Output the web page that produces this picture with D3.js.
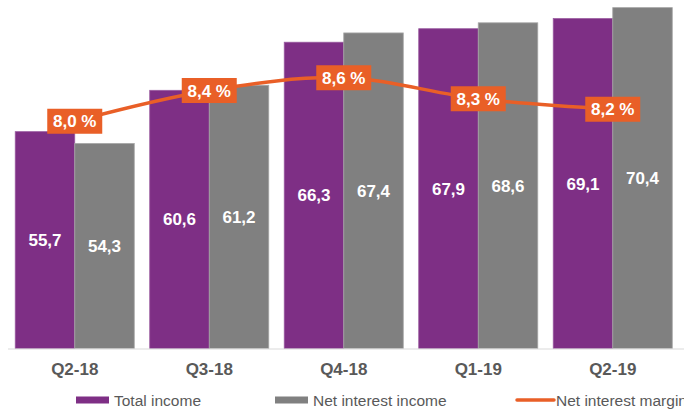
<!DOCTYPE html>
<html>
<head>
<meta charset="utf-8">
<script src="https://cdn.jsdelivr.net/npm/d3@7"></script>
<style>
  body { margin: 0; background: #fff; }
  svg { display: block; font-family: "Liberation Sans", Arial, sans-serif; }
</style>
</head>
<body>
<div id="chart"></div>
<script>
var quarters = ["Q2-18", "Q3-18", "Q4-18", "Q1-19", "Q2-19"]
var totalIncome = [55.7, 60.6, 66.3, 67.9, 69.1]
var netInterestIncome = [54.3, 61.2, 67.4, 68.6, 70.4]
var netInterestMargin = [8.01, 8.42, 8.59, 8.31, 8.17]
var legendLabels = ["Total income", "Net interest income", "Net interest margin"]

var width = 684, height = 411
var purple = "#7e2f85", gray = "#808080", orange = "#e95f27"

var svg = d3.select("#chart").append("svg")
  .attr("width", width)
  .attr("height", height)

var x = d3.scaleBand().domain(quarters).range([7.5, 680]).paddingInner(0.115).paddingOuter(0.0575)
var xSub = d3.scaleBand().domain([0, 1]).range([0, x.bandwidth()])
var y = d3.scaleLinear().domain([30, 70]).range([348.5, 11])
var yM = d3.scaleLinear().domain([8, 8.6]).range([122, 77])

// bars
var series = [
  {values: totalIncome, color: purple, stroke: "#9a5ba0"},
  {values: netInterestIncome, color: gray, stroke: "#a6a6a6"}
]
series.forEach(function(s, si){
  var g = svg.append("g")
  g.selectAll("rect").data(s.values).enter().append("rect")
    .attr("x", function(d, i){ return x(quarters[i]) + xSub(si) })
    .attr("y", function(d){ return y(d) })
    .attr("width", xSub.bandwidth())
    .attr("height", function(d){ return y(30) - y(d) })
    .attr("fill", s.color)
    .attr("stroke", s.stroke)
    .attr("stroke-width", 0.8)

  g.selectAll("text").data(s.values).enter().append("text")
    .attr("x", function(d, i){ return x(quarters[i]) + xSub(si) + xSub.bandwidth() / 2 })
    .attr("y", function(d){ return (y(d) + y(30)) / 2 + 6 })
    .attr("text-anchor", "middle")
    .attr("fill", "#fff")
    .attr("font-size", 17)
    .attr("font-weight", "bold")
    .text(function(d){ return d.toFixed(1).replace(".", ",") })
})

// x axis
var xAxis = d3.axisBottom(x).tickSize(0).tickPadding(14)
var ax = svg.append("g")
  .attr("transform", "translate(0," + 349 + ")")
  .call(xAxis)
ax.select(".domain").attr("stroke", "#d9d9d9").attr("d", "M8,0H684")
ax.selectAll("text")
  .attr("font-size", 17)
  .attr("font-weight", "bold")
  .attr("fill", "#595959")
  .attr("font-family", "Liberation Sans, Arial, sans-serif")

// margin line
var line = d3.line()
  .x(function(d, i){ return x(quarters[i]) + x.bandwidth() / 2 })
  .y(function(d){ return yM(d) })
  .curve(d3.curveCardinal.tension(0))

svg.append("path")
  .datum(netInterestMargin)
  .attr("d", line)
  .attr("fill", "none")
  .attr("stroke", orange)
  .attr("stroke-width", 3.5)

var boxes = svg.append("g").selectAll("g").data(netInterestMargin).enter().append("g")
  .attr("transform", function(d, i){
    return "translate(" + (x(quarters[i]) + x.bandwidth() / 2) + "," + yM(d) + ")"
  })
boxes.append("rect")
  .attr("x", -27.5).attr("y", -12.5)
  .attr("width", 55).attr("height", 25)
  .attr("fill", orange)
boxes.append("text")
  .attr("y", 6)
  .attr("text-anchor", "middle")
  .attr("fill", "#fff")
  .attr("font-size", 17)
  .attr("font-weight", "bold")
  .text(function(d){ return d.toFixed(1).replace(".", ",") + " %" })

// legend
var legendX = [76, 275, 517]
var lg = svg.append("g").selectAll("g").data(legendLabels).enter().append("g")
  .attr("transform", function(d, i){ return "translate(" + legendX[i] + ",400)" })
lg.each(function(d, i){
  var el = d3.select(this)
  if (i < 2) {
    el.append("rect").attr("x", 0).attr("y", -3.5).attr("width", 33).attr("height", 7)
      .attr("fill", i == 0 ? purple : gray)
  } else {
    el.append("line").attr("x1", 0).attr("x2", 37).attr("y1", 0).attr("y2", 0)
      .attr("stroke", orange).attr("stroke-width", 3.5).attr("stroke-linecap", "round")
  }
})
lg.append("text")
  .attr("x", function(d, i){ return i < 2 ? 38 : 39 })
  .attr("y", 5.5)
  .attr("font-size", 15.5)
  .attr("fill", "#595959")
  .text(function(d){ return d })
</script>
</body>
</html>
